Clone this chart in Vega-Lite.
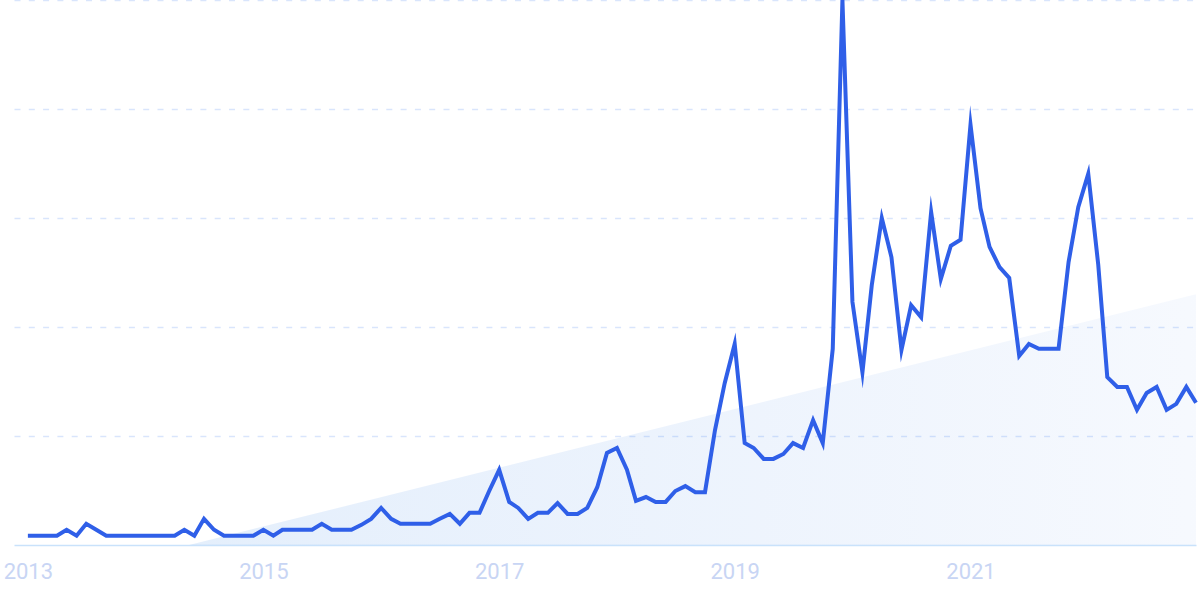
{
  "$schema": "https://vega.github.io/schema/vega-lite/v6.json",
  "width": 1182,
  "height": 545,
  "autosize": {"type": "none"},
  "padding": {"left": 14, "top": 0, "right": 4, "bottom": 54},
  "background": "#ffffff",
  "config": {"view": {"stroke": null}},
  "datasets": {
    "series": [
      {"date": "2013-01-01", "value": 1.7}, {"date": "2013-02-01", "value": 1.7}, {"date": "2013-03-01", "value": 1.7}, {"date": "2013-04-01", "value": 1.7},
      {"date": "2013-05-01", "value": 2.8}, {"date": "2013-06-01", "value": 1.7}, {"date": "2013-07-01", "value": 3.9}, {"date": "2013-08-01", "value": 2.8},
      {"date": "2013-09-01", "value": 1.7}, {"date": "2013-10-01", "value": 1.7}, {"date": "2013-11-01", "value": 1.7}, {"date": "2013-12-01", "value": 1.7},
      {"date": "2014-01-01", "value": 1.7}, {"date": "2014-02-01", "value": 1.7}, {"date": "2014-03-01", "value": 1.7}, {"date": "2014-04-01", "value": 1.7},
      {"date": "2014-05-01", "value": 2.8}, {"date": "2014-06-01", "value": 1.7}, {"date": "2014-07-01", "value": 4.8}, {"date": "2014-08-01", "value": 2.8},
      {"date": "2014-09-01", "value": 1.7}, {"date": "2014-10-01", "value": 1.7}, {"date": "2014-11-01", "value": 1.7}, {"date": "2014-12-01", "value": 1.7},
      {"date": "2015-01-01", "value": 2.8}, {"date": "2015-02-01", "value": 1.7}, {"date": "2015-03-01", "value": 2.8}, {"date": "2015-04-01", "value": 2.8},
      {"date": "2015-05-01", "value": 2.8}, {"date": "2015-06-01", "value": 2.8}, {"date": "2015-07-01", "value": 3.9}, {"date": "2015-08-01", "value": 2.8},
      {"date": "2015-09-01", "value": 2.8}, {"date": "2015-10-01", "value": 2.8}, {"date": "2015-11-01", "value": 3.7}, {"date": "2015-12-01", "value": 4.8},
      {"date": "2016-01-01", "value": 6.8}, {"date": "2016-02-01", "value": 4.8}, {"date": "2016-03-01", "value": 3.9}, {"date": "2016-04-01", "value": 3.9},
      {"date": "2016-05-01", "value": 3.9}, {"date": "2016-06-01", "value": 3.9}, {"date": "2016-07-01", "value": 4.8}, {"date": "2016-08-01", "value": 5.7},
      {"date": "2016-09-01", "value": 3.9}, {"date": "2016-10-01", "value": 5.9}, {"date": "2016-11-01", "value": 5.9}, {"date": "2016-12-01", "value": 9.9},
      {"date": "2017-01-01", "value": 13.8}, {"date": "2017-02-01", "value": 7.9}, {"date": "2017-03-01", "value": 6.8}, {"date": "2017-04-01", "value": 4.8},
      {"date": "2017-05-01", "value": 5.9}, {"date": "2017-06-01", "value": 5.9}, {"date": "2017-07-01", "value": 7.7}, {"date": "2017-08-01", "value": 5.7},
      {"date": "2017-09-01", "value": 5.7}, {"date": "2017-10-01", "value": 6.8}, {"date": "2017-11-01", "value": 10.6}, {"date": "2017-12-01", "value": 16.9},
      {"date": "2018-01-01", "value": 17.8}, {"date": "2018-02-01", "value": 13.8}, {"date": "2018-03-01", "value": 8.1}, {"date": "2018-04-01", "value": 8.8},
      {"date": "2018-05-01", "value": 7.9}, {"date": "2018-06-01", "value": 7.9}, {"date": "2018-07-01", "value": 9.9}, {"date": "2018-08-01", "value": 10.8},
      {"date": "2018-09-01", "value": 9.7}, {"date": "2018-10-01", "value": 9.7}, {"date": "2018-11-01", "value": 21.1}, {"date": "2018-12-01", "value": 29.7},
      {"date": "2019-01-01", "value": 36.9}, {"date": "2019-02-01", "value": 18.7}, {"date": "2019-03-01", "value": 17.8}, {"date": "2019-04-01", "value": 15.8},
      {"date": "2019-05-01", "value": 15.8}, {"date": "2019-06-01", "value": 16.7}, {"date": "2019-07-01", "value": 18.7}, {"date": "2019-08-01", "value": 17.8},
      {"date": "2019-09-01", "value": 22.9}, {"date": "2019-10-01", "value": 18.7}, {"date": "2019-11-01", "value": 36.0}, {"date": "2019-12-01", "value": 100},
      {"date": "2020-01-01", "value": 44.6}, {"date": "2020-02-01", "value": 31.7}, {"date": "2020-03-01", "value": 47.7}, {"date": "2020-04-01", "value": 60.0},
      {"date": "2020-05-01", "value": 52.8}, {"date": "2020-06-01", "value": 35.8}, {"date": "2020-07-01", "value": 44.0}, {"date": "2020-08-01", "value": 41.8},
      {"date": "2020-09-01", "value": 61.1}, {"date": "2020-10-01", "value": 48.8}, {"date": "2020-11-01", "value": 54.9}, {"date": "2020-12-01", "value": 56.0},
      {"date": "2021-01-01", "value": 77.1}, {"date": "2021-02-01", "value": 61.8}, {"date": "2021-03-01", "value": 54.7}, {"date": "2021-04-01", "value": 51.0},
      {"date": "2021-05-01", "value": 49.0}, {"date": "2021-06-01", "value": 34.7}, {"date": "2021-07-01", "value": 36.9}, {"date": "2021-08-01", "value": 36.0},
      {"date": "2021-09-01", "value": 36.0}, {"date": "2021-10-01", "value": 36.0}, {"date": "2021-11-01", "value": 51.9}, {"date": "2021-12-01", "value": 62.0},
      {"date": "2022-01-01", "value": 68.1}, {"date": "2022-02-01", "value": 51.4}, {"date": "2022-03-01", "value": 30.8}, {"date": "2022-04-01", "value": 29.0},
      {"date": "2022-05-01", "value": 29.0}, {"date": "2022-06-01", "value": 24.8}, {"date": "2022-07-01", "value": 27.9}, {"date": "2022-08-01", "value": 29.0},
      {"date": "2022-09-01", "value": 24.8}, {"date": "2022-10-01", "value": 25.9}, {"date": "2022-11-01", "value": 29.0}, {"date": "2022-12-01", "value": 26.1}
    ],
    "trend": [
      {"date": "2014-05-16", "value": 0},
      {"date": "2022-12-01", "value": 46}
    ]
  },
  "encoding": {
    "x": {
      "field": "date",
      "type": "temporal",
      "scale": {"type": "utc", "domain": ["2012-11-19", "2022-12-01"]},
      "axis": {
        "title": null,
        "values": [
          {"year": 2013, "month": 1, "date": 1, "utc": true},
          {"year": 2015, "month": 1, "date": 1, "utc": true},
          {"year": 2017, "month": 1, "date": 1, "utc": true},
          {"year": 2019, "month": 1, "date": 1, "utc": true},
          {"year": 2021, "month": 1, "date": 1, "utc": true}
        ],
        "format": "%Y",
        "formatType": "utc",
        "grid": false,
        "ticks": false,
        "domain": true,
        "domainColor": "#c9e2fb",
        "domainWidth": 1.5,
        "labelFont": "Roboto",
        "labelFontSize": 22,
        "labelColor": "#c8d5f4",
        "labelPadding": 16,
        "labelFlush": false,
        "labelOverlap": false
      }
    },
    "y": {
      "field": "value",
      "type": "quantitative",
      "scale": {"domain": [0, 100], "nice": false, "zero": true},
      "axis": {
        "title": null,
        "values": [20, 40, 60, 80, 100],
        "labels": false,
        "ticks": false,
        "domain": false,
        "grid": true,
        "gridColor": "#d9e5fc",
        "gridWidth": 1.5,
        "gridDash": [6, 8.3]
      }
    }
  },
  "layer": [
    {
      "data": {"name": "trend"},
      "mark": {
        "type": "area",
        "fill": {
          "gradient": "linear",
          "x1": 0, "y1": 0, "x2": 1, "y2": 0,
          "stops": [
            {"offset": 0, "color": "rgba(47,130,230,0.13)"},
            {"offset": 1, "color": "rgba(30,105,230,0.04)"}
          ]
        },
        "stroke": null
      }
    },
    {
      "data": {"name": "series"},
      "mark": {"type": "line", "color": "#2f5fe8", "strokeWidth": 4, "strokeJoin": "miter", "strokeMiterLimit": 10}
    }
  ]
}
